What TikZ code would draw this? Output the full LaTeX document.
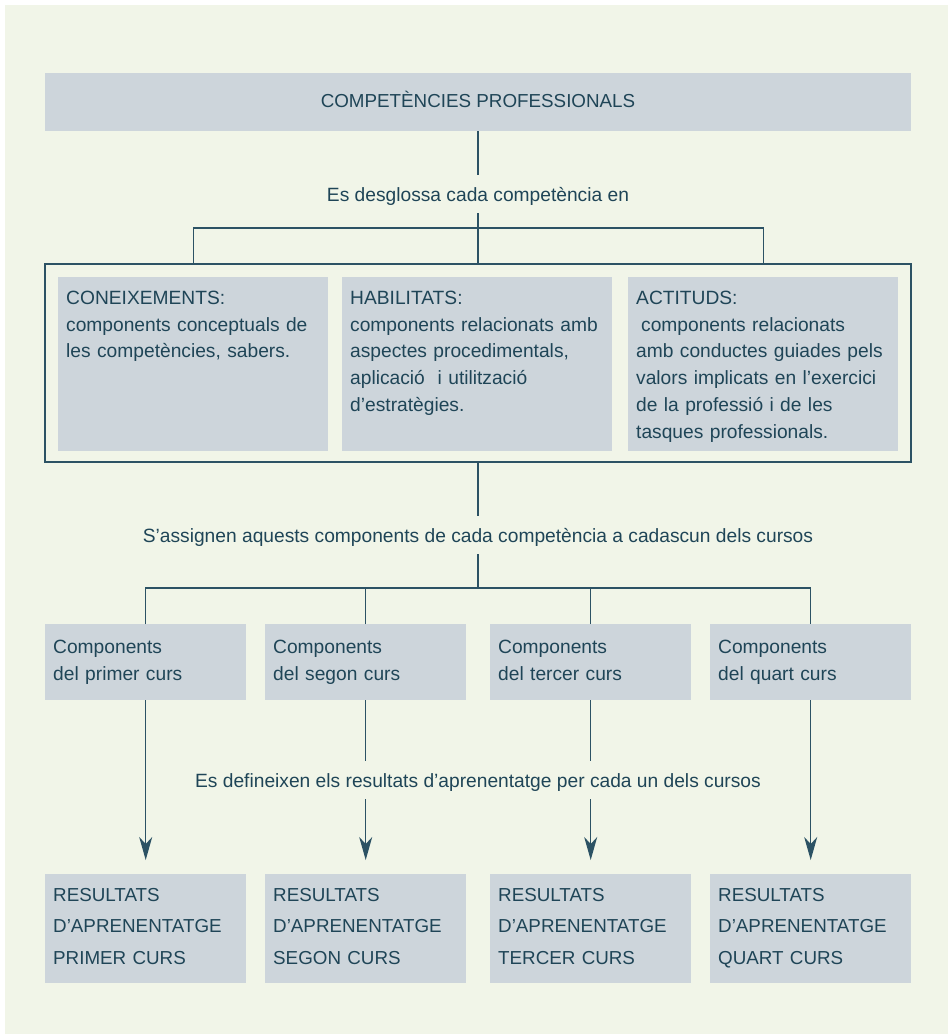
\documentclass[tikz,border=0pt]{standalone}
\usepackage{fontspec}
\setmainfont{Liberation Sans}
\usetikzlibrary{arrows.meta}
\definecolor{fons}{HTML}{F1F5E8}
\definecolor{caixa}{HTML}{CDD5DB}
\definecolor{tinta}{HTML}{1F4557}
\definecolor{linia}{HTML}{2C5264}

\begin{document}
\begin{tikzpicture}[x=1pt,y=-1pt,
    every node/.style={text=tinta,font=\fontsize{19.2}{26.8}\selectfont},
    titol/.style={fill=caixa,minimum width=866pt,minimum height=58pt,inner sep=0pt,text height=14pt,text depth=4pt,font=\fontsize{18.8}{22}\selectfont},
    marc/.style={draw=linia,line width=1.4pt,minimum width=866pt,minimum height=198pt,inner sep=0pt},
    bloc/.style={fill=caixa,anchor=north west,align=left,text width=254pt,inner xsep=8pt,inner ysep=13pt,text height=14pt,text depth=134pt},
    comp/.style={fill=caixa,anchor=north west,align=left,text width=185pt,inner xsep=8pt,inner ysep=15pt,text height=14pt,text depth=32pt},
    resultat/.style={fill=caixa,anchor=north west,align=left,text width=185pt,inner xsep=8pt,inner ysep=13pt,text height=14pt,text depth=69pt,font=\fontsize{18.8}{31.7}\selectfont},
    enllac/.style={inner xsep=4pt,inner ysep=12pt,text height=14pt,text depth=0pt},
    fil/.style={draw=linia,line width=1.3pt},
    fletxa/.style={fil,-{Stealth[length=23pt,width=13pt,inset=7pt]},shorten >=14pt}]
    \useasboundingbox (0,0) rectangle (948,1034);
    \fill[fons] (5,5) rectangle (948,1034);

    \node[titol] (competencies) at (478,102) {COMPETÈNCIES PROFESSIONALS};
    \node[enllac] (desglossa) at (478,194) {Es desglossa cada competència en};
    \node[marc] (marc) at (478,363) {};
    \node[bloc] (coneix) at (58,277) {CONEIXEMENTS:\\components conceptuals de\\les competències, sabers.};
    \node[bloc] (habil) at (342,277) {HABILITATS:\\components relacionats amb\\aspectes procedimentals,\\aplicació\ \ i utilització\\d’estratègies.};
    \node[bloc] (actit) at (628,277) {ACTITUDS:\\\hspace*{5pt}components relacionats\\amb conductes guiades pels\\valors implicats en l’exercici\\de la professió i de les\\tasques professionals.};
    \node[enllac] (assignen) at (478,535) {S’assignen aquests components de cada competència a cadascun dels cursos};

    \node[comp] (c1) at (45,624) {Components\\del primer curs};
    \node[comp] (c2) at (265,624) {Components\\del segon curs};
    \node[comp] (c3) at (490,624) {Components\\del tercer curs};
    \node[comp] (c4) at (710,624) {Components\\del quart curs};

    \node[enllac] (defineixen) at (478,780) {Es defineixen els resultats d’aprenentatge per cada un dels cursos};

    \node[resultat] (r1) at (45,874) {RESULTATS\\D’APRENENTATGE\\PRIMER CURS};
    \node[resultat] (r2) at (265,874) {RESULTATS\\D’APRENENTATGE\\SEGON CURS};
    \node[resultat] (r3) at (490,874) {RESULTATS\\D’APRENENTATGE\\TERCER CURS};
    \node[resultat] (r4) at (710,874) {RESULTATS\\D’APRENENTATGE\\QUART CURS};

    \coordinate (bif1) at (478,228);
    \coordinate (bif2) at (478,588);

    \draw[fil] (competencies) -- (desglossa);
    \draw[fil] (desglossa) -- (marc);
    \draw[fil] (coneix.north |- marc.north) |- (bif1) -| (actit.north |- marc.north);
    \draw[fil] (marc) -- (assignen);
    \draw[fil] (assignen) -- (bif2);
    \draw[fil] (c1.north) |- (bif2) -| (c4.north);
    \draw[fil] (c2.north) -- (c2.north |- bif2);
    \draw[fil] (c3.north) -- (c3.north |- bif2);

    \draw[fletxa] (c1.south) -- (r1.north);
    \draw[fil] (c2.south) -- (c2.south |- defineixen.north);
    \draw[fletxa] (c2.south |- defineixen.south) -- (r2.north);
    \draw[fil] (c3.south) -- (c3.south |- defineixen.north);
    \draw[fletxa] (c3.south |- defineixen.south) -- (r3.north);
    \draw[fletxa] (c4.south) -- (r4.north);
\end{tikzpicture}
\end{document}
